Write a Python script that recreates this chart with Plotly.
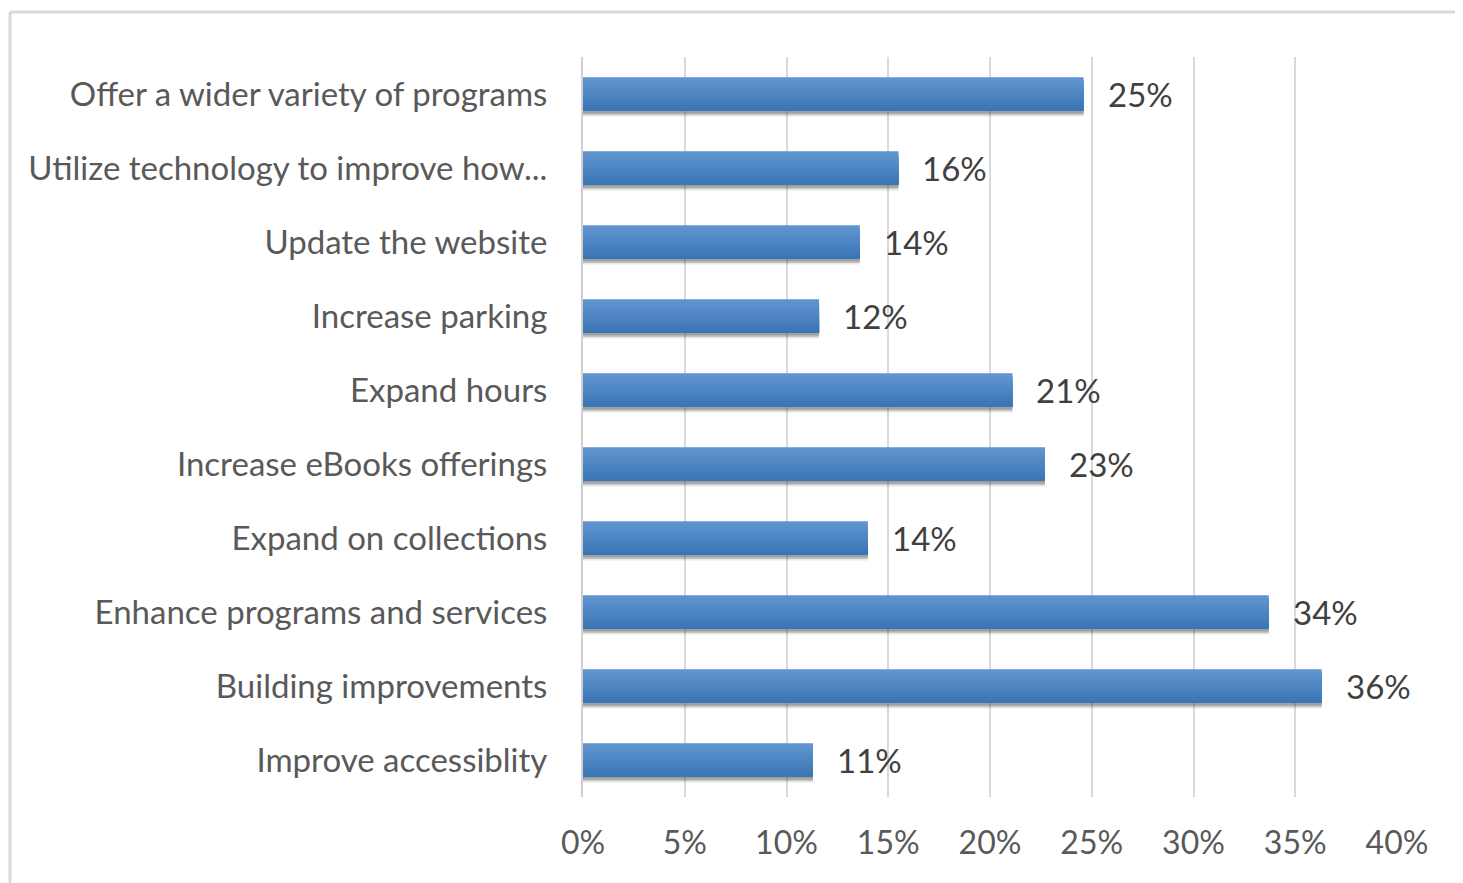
import plotly.graph_objects as go

categories = [
    "Offer a wider variety of programs",
    "Utilize technology to improve how...",
    "Update the website",
    "Increase parking",
    "Expand hours",
    "Increase eBooks offerings",
    "Expand on collections",
    "Enhance programs and services",
    "Building improvements",
    "Improve accessiblity",
]
values = [24.6, 15.5, 13.6, 11.6, 21.1, 22.7, 14.0, 33.7, 36.3, 11.3]
labels = ["25%", "16%", "14%", "12%", "21%", "23%", "14%", "34%", "36%", "11%"]
tick_vals = [0, 5, 10, 15, 20, 25, 30, 35, 40]
tick_text = ["0%", "5%", "10%", "15%", "20%", "25%", "30%", "35%", "40%"]

FONT = "Lato"
PAGE_MARGIN = 8  # default body margin of the html page
W, H = 1463 - PAGE_MARGIN, 883 - PAGE_MARGIN
L, R, T, B = 583 - PAGE_MARGIN, 66, 57 - PAGE_MARGIN, 86

BAR_W = 0.45
fig = go.Figure()
# soft shadow below bars
for off, op in [(0.08, 0.12), (0.06, 0.18), (0.04, 0.25)]:
    fig.add_trace(go.Bar(
        y=categories, x=values, orientation="h", width=BAR_W, offset=-BAR_W / 2 + off,
        marker=dict(color=f"rgba(50,50,50,{op})", line=dict(width=0)),
        hoverinfo="skip", showlegend=False,
    ))

# vertical gradient (light top -> darker bottom); each layer runs to the bar bottom
top_rgb = (96, 148, 206)
bot_rgb = (58, 118, 182)
N = 12
for i in range(N):
    f = i / (N - 1)
    rgb = tuple(round(a + (b - a) * f) for a, b in zip(top_rgb, bot_rgb))
    fig.add_trace(go.Bar(
        y=categories, x=values, orientation="h",
        width=BAR_W - i * BAR_W / N, offset=-BAR_W / 2 + i * BAR_W / N,
        marker=dict(color="rgb(%d,%d,%d)" % rgb, line=dict(width=0)),
        hoverinfo="skip" if i else "x+y", showlegend=False,
    ))

for c, v, t in zip(categories, values, labels):
    fig.add_annotation(x=v, y=c, text=t, showarrow=False, xanchor="left",
                       xshift=22, font=dict(family=FONT, size=33, color="#404040"))

fig.update_layout(
    width=W, height=H,
    margin=dict(l=L, r=R, t=T, b=B),
    paper_bgcolor="white", plot_bgcolor="white",
    barmode="overlay",
    font=dict(family=FONT, size=33, color="#595959"),
    xaxis=dict(range=[0, 40], tickvals=tick_vals, ticktext=tick_text,
               showgrid=True, gridcolor="#d9d9d9", gridwidth=1.5,
               zeroline=False, showline=False, ticks="",
               ticklabelstandoff=24, tickfont=dict(family=FONT, size=32, color="#595959")),
    yaxis=dict(autorange="reversed", showgrid=False, zeroline=False,
               showline=True, linecolor="#d0d0d0", linewidth=2, ticks="",
               ticklabelstandoff=27, tickfont=dict(family=FONT, size=33, color="#595959")),
    shapes=[
        dict(type="line", xref="paper", yref="paper",
             x0=(10 - 583) / (W - L - R), x1=(10 - 583) / (W - L - R),
             y0=(797 - 12) / (H - T - B), y1=-0.2,
             line=dict(color="#d9d9d9", width=3)),
        dict(type="line", xref="paper", yref="paper",
             x0=(10 - 583) / (W - L - R), x1=1.2,
             y0=(797 - 12) / (H - T - B), y1=(797 - 12) / (H - T - B),
             line=dict(color="#d9d9d9", width=3)),
    ],
)

fig.write_html("out.html")
